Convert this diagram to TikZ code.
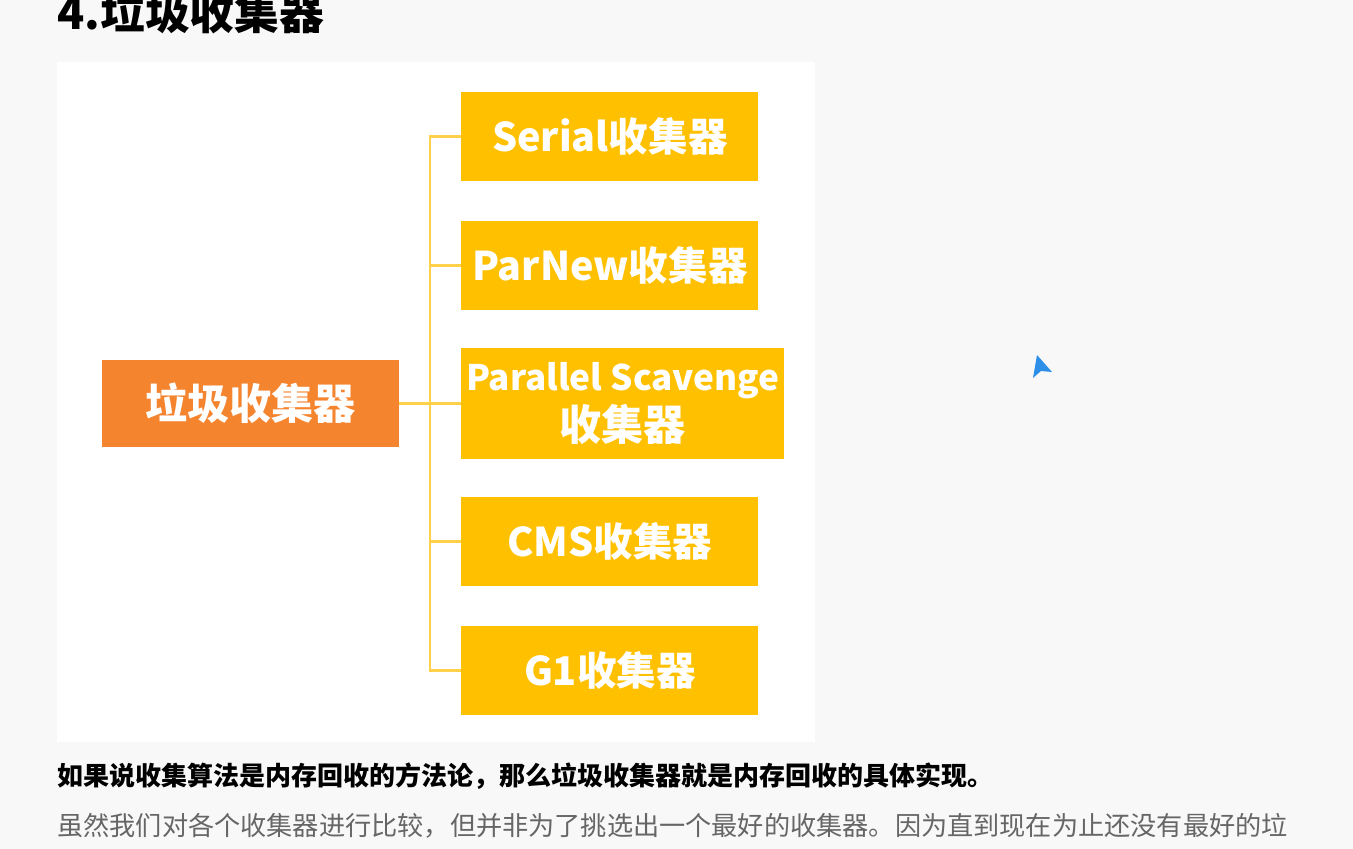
\documentclass[tikz,border=0pt]{standalone}
\usepackage{fontspec}
\usetikzlibrary{positioning}
\newfontfamily\cjk{Noto Sans CJK SC}
\definecolor{Page}{HTML}{F8F8F8}
\definecolor{Orange}{HTML}{F5842F}
\definecolor{Gold}{HTML}{FFC000}
\definecolor{Wire}{HTML}{FFD04A}
\definecolor{Grey}{HTML}{666666}
\definecolor{Pointer}{HTML}{2E8FE8}
\tikzset{
 box/.style={draw=none, minimum width=5.94cm, minimum height=1.78cm, inner sep=0pt, align=center, text=white, font=\cjk\bfseries\fontsize{22.5}{28}\selectfont},
 rootbox/.style={box, fill=Orange, minimum height=1.74cm, font=\cjk\bfseries\fontsize{24}{28}\selectfont},
 goldbox/.style={box, fill=Gold, anchor=west},
 link/.style={draw=Wire, line width=1.5pt},
 para/.style={anchor=west, inner sep=0pt, font=\cjk\bfseries\fontsize{14.8}{18}\selectfont}
}

\begin{document}
\begin{tikzpicture}[x=0.02cm,y=0.02cm]
\useasboundingbox (0,0) rectangle (1353,-849);
\clip (0,0) rectangle (1353,-849);
\fill[Page] (0,0) rectangle (1353,-849);
\fill[white] (57,-62) rectangle (815,-742);
% heading
\node[anchor=base west, inner sep=0pt, font=\cjk\bfseries\fontsize{25.5}{30}\selectfont] (title) at (57,-29) {4.垃圾收集器};
% tree
\node[rootbox] (root) at (250.5,-403.5) {垃圾收集器};
\node[goldbox] (serial) at (461,-136.5) {Serial收集器};
\node[goldbox] (parnew) at (461,-265.5) {ParNew收集器};
\node[goldbox, minimum width=6.46cm, minimum height=2.22cm] (scav) at (461,-403.5) {{\fontsize{20}{28}\selectfont Parallel Scavenge}\\{\fontsize{24}{28}\selectfont 收集器}};
\node[goldbox] (cms) at (461,-541.5) {CMS收集器};
\node[goldbox] (g1) at (461,-670.5) {G1收集器};
\coordinate (bus) at (430,-403.5);
\draw[link] (root) -- (scav);
\draw[link] (serial.west) -| (bus) |- (g1.west);
\foreach \n in {parnew,cms}
 \draw[link] (\n.west) -- (\n.west -| bus);
% text below
\node[para] (lead) at (57,-776) {如果说收集算法是内存回收的方法论，那么垃圾收集器就是内存回收的具体实现。};
\node[para, text=Grey, font=\cjk\fontsize{14.9}{18}\selectfont] (body) at (57,-826) {虽然我们对各个收集器进行比较，但并非为了挑选出一个最好的收集器。因为直到现在为止还没有最好的垃};
% mouse pointer
\fill[Pointer] (1037,-355) -- (1052,-372) -- (1041,-371) -- (1033,-378) -- cycle;
\end{tikzpicture}
\end{document}
